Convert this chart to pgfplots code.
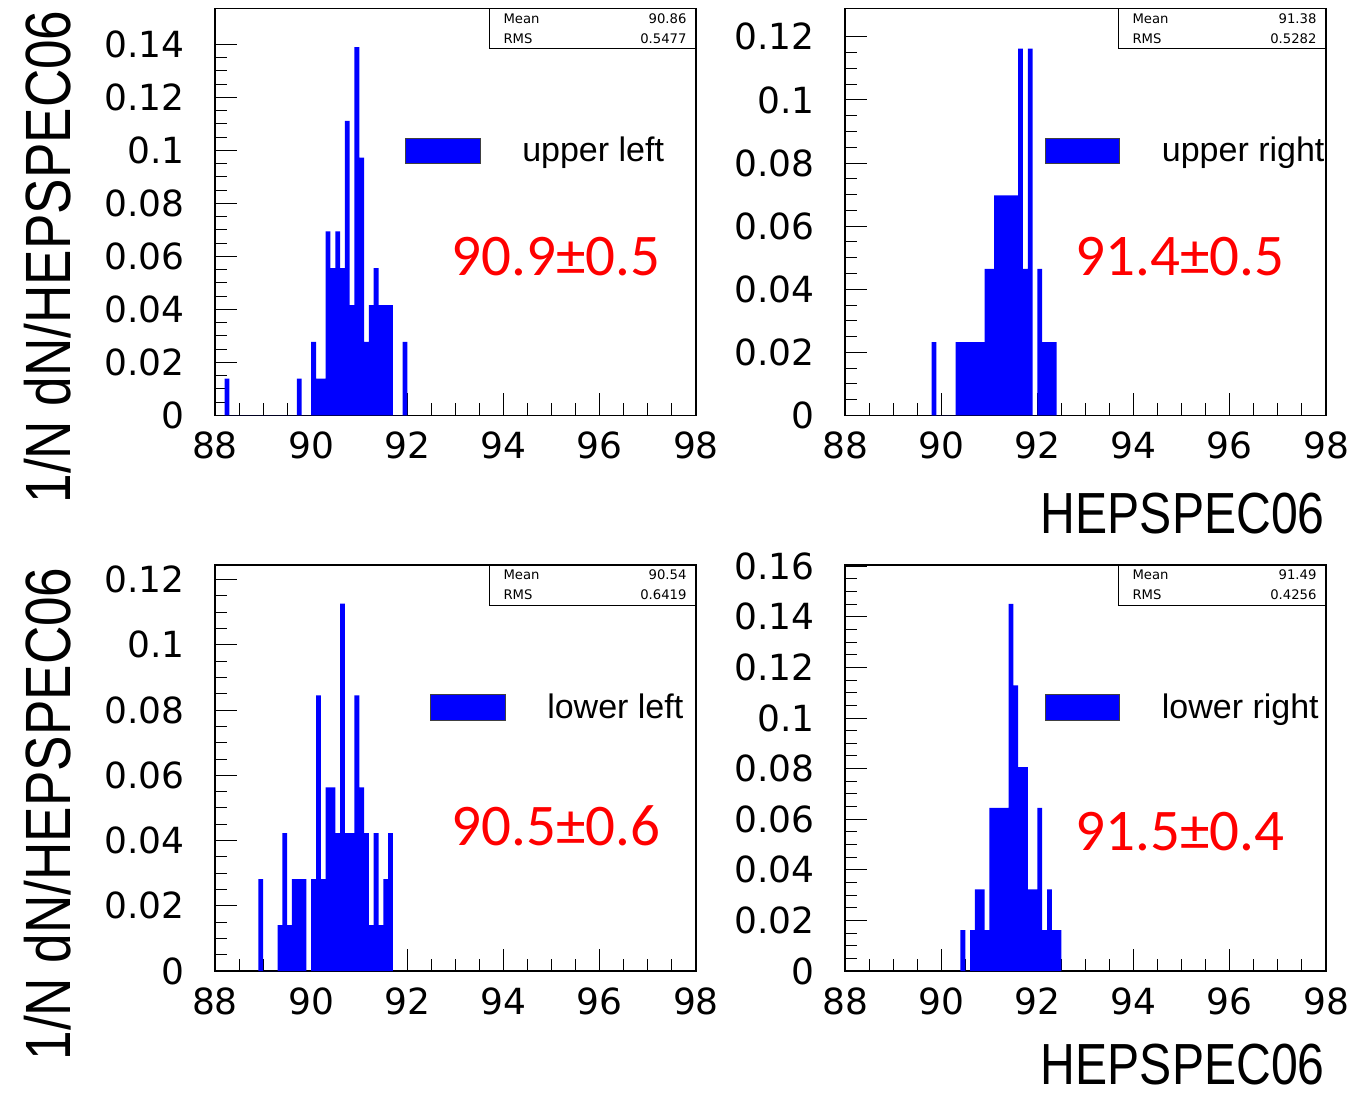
\documentclass[border=0pt]{standalone}
\usepackage{fontspec}
\setmainfont{Liberation Sans}
\newfontfamily\tickfont{DejaVu Sans}
\newfontfamily\redfont{Carlito}
\usepackage{graphicx}
\usepackage{pgfplots}
\pgfplotsset{compat=1.18}

\pgfplotsset{
  rootaxis/.style={
    scale only axis, width=240.5pt, height=203.5pt,
    xmin=88, xmax=98, ymin=0,
    xtick={88,90,...,98}, minor x tick num=3, minor y tick num=3,
    tick align=inside, tick pos=left,
    major tick length=11pt, minor tick length=6pt,
    tick style={black, line width=0.5pt},
    axis line style={line width=0.6pt},
    scaled y ticks=false,
    /pgf/number format/assume math mode=true,
    ticklabel style={font=\fontsize{18}{20}\selectfont\tickfont},
    yticklabel style={/pgf/number format/fixed, /pgf/number format/precision=2, anchor=east, inner sep=0pt, xshift=-15pt},
    xticklabel style={anchor=north, inner sep=0pt, yshift=-8pt},
    clip=false,
  },
  histo/.style={ybar interval, fill=blue, draw=none},
}
\newcommand{\legfont}{\fontsize{17}{20}\selectfont}
\newcommand{\redf}{\fontsize{29.5}{32}\selectfont\redfont\color{red}}
\newcommand{\statf}{\fontsize{6.6}{8}\selectfont\tickfont}
\newcommand{\labf}{\fontsize{32}{36}\selectfont}
\newcommand{\xlabf}{\fontsize{29}{32}\selectfont}

\begin{document}
\begin{tikzpicture}
\path[use as bounding box] (0,0) rectangle (677.5pt,-547.5pt);

% ---------- upper left ----------
\begin{axis}[rootaxis, at={(107.5pt,-207.75pt)}, anchor=south west,
  ymax=0.1535, ytick={0,0.02,0.04,0.06,0.08,0.1,0.12,0.14}]
\addplot[histo, y filter/.expression={y/72}] coordinates {
(88.2,1)(88.3,0)(88.4,0)(88.5,0)(88.6,0)(88.7,0)(88.8,0)(88.9,0)
(89.0,0)(89.1,0)(89.2,0)(89.3,0)(89.4,0)(89.5,0)(89.6,0)(89.7,1)
(89.8,0)(89.9,0)(90.0,2)(90.1,1)(90.2,1)(90.3,5)(90.4,4)(90.5,5)
(90.6,4)(90.7,8)(90.8,3)(90.9,10)(91.0,7)(91.1,2)(91.2,3)(91.3,4)
(91.4,3)(91.5,3)(91.6,3)(91.7,0)(91.8,0)(91.9,2)(92.0,0)};
\draw[fill=blue, draw=black!75, line width=0.5pt] (rel axis cs:0.397,0.620) rectangle (rel axis cs:0.553,0.681);
\node[anchor=base west, inner sep=0pt, font=\legfont] at (rel axis cs:0.638,0.624) {upper left};
\node[anchor=base west, inner sep=0pt, font=\redf] at (rel axis cs:0.491,0.344) {90.9±0.5};
\draw[line width=0.5pt] (rel axis cs:0.570,0.902) rectangle (rel axis cs:1,1);
\node[anchor=west, inner sep=0pt, font=\statf] at (rel axis cs:0.599,0.9755) {Mean};
\node[anchor=west, inner sep=0pt, font=\statf] at (rel axis cs:0.599,0.9264) {RMS};
\node[anchor=east, inner sep=0pt, font=\statf] at (rel axis cs:0.981,0.9755) {90.86};
\node[anchor=east, inner sep=0pt, font=\statf] at (rel axis cs:0.981,0.9264) {0.5477};
\end{axis}

% ---------- upper right ----------
\begin{axis}[rootaxis, at={(422.5pt,-207.75pt)}, anchor=south west,
  ymax=0.129, ytick={0,0.02,0.04,0.06,0.08,0.1,0.12}]
\addplot[histo, y filter/.expression={y/43}] coordinates {
(89.8,1)(89.9,0)(90.0,0)(90.1,0)(90.2,0)(90.3,1)(90.4,1)(90.5,1)
(90.6,1)(90.7,1)(90.8,1)(90.9,2)(91.0,2)(91.1,3)(91.2,3)(91.3,3)
(91.4,3)(91.5,3)(91.6,5)(91.7,2)(91.8,5)(91.9,0)(92.0,2)(92.1,1)
(92.2,1)(92.3,1)(92.4,0)};
\draw[fill=blue, draw=black!75, line width=0.5pt] (rel axis cs:0.417,0.620) rectangle (rel axis cs:0.571,0.681);
\node[anchor=base west, inner sep=0pt, font=\legfont] at (rel axis cs:0.658,0.624) {upper right};
\node[anchor=base west, inner sep=0pt, font=\redf] at (rel axis cs:0.479,0.344) {91.4±0.5};
\draw[line width=0.5pt] (rel axis cs:0.568,0.902) rectangle (rel axis cs:1,1);
\node[anchor=west, inner sep=0pt, font=\statf] at (rel axis cs:0.597,0.9755) {Mean};
\node[anchor=west, inner sep=0pt, font=\statf] at (rel axis cs:0.597,0.9264) {RMS};
\node[anchor=east, inner sep=0pt, font=\statf] at (rel axis cs:0.981,0.9755) {91.38};
\node[anchor=east, inner sep=0pt, font=\statf] at (rel axis cs:0.981,0.9264) {0.5282};
\end{axis}

% ---------- lower left ----------
\begin{axis}[rootaxis, at={(107.5pt,-485.5pt)}, anchor=south west, height=203pt,
  ymax=0.1245, ytick={0,0.02,0.04,0.06,0.08,0.1,0.12}]
\addplot[histo, y filter/.expression={y/71}] coordinates {
(88.9,2)(89.0,0)(89.1,0)(89.2,0)(89.3,1)(89.4,3)(89.5,1)(89.6,2)
(89.7,2)(89.8,2)(89.9,0)(90.0,2)(90.1,6)(90.2,2)(90.3,4)(90.4,4)
(90.5,3)(90.6,8)(90.7,3)(90.8,3)(90.9,6)(91.0,4)(91.1,3)(91.2,1)
(91.3,3)(91.4,1)(91.5,2)(91.6,3)(91.7,0)};
\draw[fill=blue, draw=black!75, line width=0.5pt] (rel axis cs:0.447,0.618) rectangle (rel axis cs:0.603,0.680);
\node[anchor=base west, inner sep=0pt, font=\legfont] at (rel axis cs:0.690,0.623) {lower left};
\node[anchor=base west, inner sep=0pt, font=\redf] at (rel axis cs:0.491,0.308) {90.5±0.6};
\draw[line width=0.5pt] (rel axis cs:0.570,0.901) rectangle (rel axis cs:1,1);
\node[anchor=west, inner sep=0pt, font=\statf] at (rel axis cs:0.599,0.9755) {Mean};
\node[anchor=west, inner sep=0pt, font=\statf] at (rel axis cs:0.599,0.9264) {RMS};
\node[anchor=east, inner sep=0pt, font=\statf] at (rel axis cs:0.981,0.9755) {90.54};
\node[anchor=east, inner sep=0pt, font=\statf] at (rel axis cs:0.981,0.9264) {0.6419};
\end{axis}

% ---------- lower right ----------
\begin{axis}[rootaxis, at={(422.5pt,-485.5pt)}, anchor=south west, height=203pt,
  ymax=0.1605, ytick={0,0.02,0.04,0.06,0.08,0.1,0.12,0.14,0.16}]
\addplot[histo, y filter/.expression={y/62}] coordinates {
(90.4,1)(90.5,0)(90.6,1)(90.7,2)(90.8,2)(90.9,1)(91.0,4)(91.1,4)
(91.2,4)(91.3,4)(91.4,9)(91.5,7)(91.6,5)(91.7,5)(91.8,2)(91.9,2)
(92.0,4)(92.1,1)(92.2,2)(92.3,1)(92.4,1)(92.5,0)};
\draw[fill=blue, draw=black!75, line width=0.5pt] (rel axis cs:0.417,0.618) rectangle (rel axis cs:0.571,0.680);
\node[anchor=base west, inner sep=0pt, font=\legfont] at (rel axis cs:0.658,0.623) {lower right};
\node[anchor=base west, inner sep=0pt, font=\redf] at (rel axis cs:0.479,0.298) {91.5±0.4};
\draw[line width=0.5pt] (rel axis cs:0.568,0.901) rectangle (rel axis cs:1,1);
\node[anchor=west, inner sep=0pt, font=\statf] at (rel axis cs:0.597,0.9755) {Mean};
\node[anchor=west, inner sep=0pt, font=\statf] at (rel axis cs:0.597,0.9264) {RMS};
\node[anchor=east, inner sep=0pt, font=\statf] at (rel axis cs:0.981,0.9755) {91.49};
\node[anchor=east, inner sep=0pt, font=\statf] at (rel axis cs:0.981,0.9264) {0.4256};
\end{axis}

% ---------- axis titles ----------
\node[rotate=90, anchor=base east, inner sep=0pt, font=\labf] at (35pt,-5pt) {\scalebox{0.83}[1]{1/N dN/HEPSPEC06}};
\node[rotate=90, anchor=base east, inner sep=0pt, font=\labf] at (35pt,-283.5pt) {\scalebox{0.83}[1]{1/N dN/HEPSPEC06}};
\node[anchor=base east, inner sep=0pt, text depth=0pt, font=\xlabf] at (662.5pt,-267pt) {\scalebox{0.83}[1]{HEPSPEC06}};
\node[anchor=base east, inner sep=0pt, text depth=0pt, font=\xlabf] at (662.5pt,-542pt) {\scalebox{0.83}[1]{HEPSPEC06}};
\end{tikzpicture}
\end{document}
